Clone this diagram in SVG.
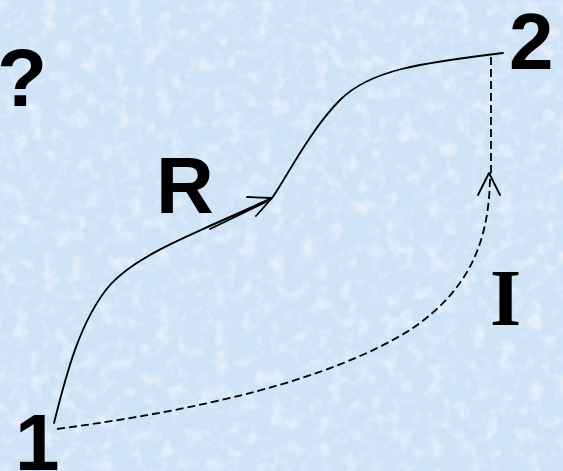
<svg xmlns="http://www.w3.org/2000/svg" width="563" height="471" viewBox="0 0 563 471">
  <style>
    .bold { font-family: "Liberation Sans", Arial, sans-serif; font-weight: bold; fill: #000; }
    .serif { font-family: "Liberation Serif", "Times New Roman", serif; font-weight: bold; fill: #000; }
    .solid { fill: none; stroke: #000; stroke-width: 1.8; stroke-linecap: round; stroke-linejoin: round; }
    .dash { fill: none; stroke: #000; stroke-width: 1.8; stroke-dasharray: 8 4; }
  </style>
  <defs>
    <filter id="tex" x="0" y="0" width="100%" height="100%">
      <feTurbulence type="fractalNoise" baseFrequency="0.07" numOctaves="3" seed="4" result="n"/>
      <feColorMatrix in="n" type="matrix" values="0 0 0 0 1  0 0 0 0 1  0 0 0 0 1  1.6 0 0 0 -0.75"/>
    </filter>
  </defs>
  <rect width="563" height="471" fill="#cfe3f7"/>
  <rect width="563" height="471" fill="#fff" filter="url(#tex)" opacity="0.8"/>

  <g id="connectors">
    <path id="path-R" class="solid" d="M54,423 C66,375 80,320 110,285 C140,252 200,232 272,198 C285,180 310,130 340,100 C370,70 420,63 503,53"/>
    <path class="solid" d="M205,228 L272,198 M210,229 L270,200"/>
    <path class="solid" d="M247,197 L272,198 L256,216"/>
    <path id="path-I" class="dash" d="M57,429 C200,410 330,380 410,330 C470,290 490,240 490,173"/>
    <path class="dash" d="M491,173 L491,53"/>
    <path class="solid" d="M478,195 L489,173 L500,195"/>
  </g>

  <g id="node-1"><text class="bold" x="15" y="470" font-size="80">1</text></g>
  <g id="node-2"><text class="bold" x="509" y="69" font-size="80">2</text></g>
  <g id="label-q"><text class="bold" x="-3" y="106" font-size="82">?</text></g>
  <g id="label-R"><text class="bold" x="156" y="213" font-size="80">R</text></g>
  <g id="label-I"><text class="serif" x="490" y="325" font-size="80">I</text></g>
</svg>
